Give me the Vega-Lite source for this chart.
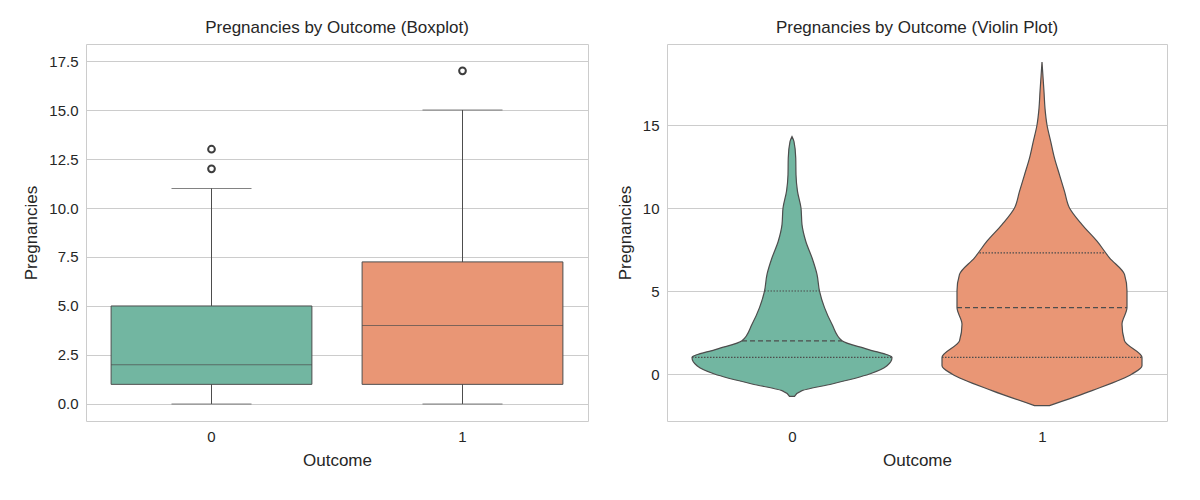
{
  "$schema": "https://vega.github.io/schema/vega-lite/v6.json",
  "padding": {"left": 22, "top": 18, "right": 20, "bottom": 10},
  "spacing": 26,
  "config": {
    "font": "Liberation Sans",
    "view": {"stroke": "#cccccc"},
    "axis": {"domain": false, "ticks": false, "labelFontSize": 15, "titleFontSize": 17, "titleFontWeight": "normal", "labelColor": "#262626", "titleColor": "#262626", "gridColor": "#cccccc", "labelPadding": 8, "titlePadding": 8},
    "title": {"fontSize": 17, "fontWeight": "normal", "color": "#262626", "offset": 7}
  },
  "datasets": {
    "box": [
      {"Outcome": "0", "lo": 0, "q1": 1, "med": 2, "q3": 5, "hi": 11},
      {"Outcome": "1", "lo": 0, "q1": 1, "med": 4, "q3": 7.25, "hi": 15}
    ],
    "outliers": [
      {"Outcome": "0", "Pregnancies": 12},
      {"Outcome": "0", "Pregnancies": 13},
      {"Outcome": "1", "Pregnancies": 17}
    ],
    "violin": [
      {"Outcome": "0", "y": -1.35, "xl": -0.01, "xr": 0.01},
      {"Outcome": "0", "y": -1.0, "xl": -0.04, "xr": 0.04},
      {"Outcome": "0", "y": -0.6, "xl": -0.16, "xr": 0.16},
      {"Outcome": "0", "y": 0.0, "xl": -0.31, "xr": 0.31},
      {"Outcome": "0", "y": 0.5, "xl": -0.38, "xr": 0.38},
      {"Outcome": "0", "y": 1.0, "xl": -0.4, "xr": 0.4},
      {"Outcome": "0", "y": 1.5, "xl": -0.3, "xr": 0.3},
      {"Outcome": "0", "y": 2.0, "xl": -0.2, "xr": 0.2},
      {"Outcome": "0", "y": 3.0, "xl": -0.16, "xr": 0.16},
      {"Outcome": "0", "y": 4.0, "xl": -0.13, "xr": 0.13},
      {"Outcome": "0", "y": 5.0, "xl": -0.11, "xr": 0.11},
      {"Outcome": "0", "y": 6.0, "xl": -0.1, "xr": 0.1},
      {"Outcome": "0", "y": 7.0, "xl": -0.08, "xr": 0.08},
      {"Outcome": "0", "y": 8.0, "xl": -0.055, "xr": 0.055},
      {"Outcome": "0", "y": 9.0, "xl": -0.04, "xr": 0.04},
      {"Outcome": "0", "y": 10.0, "xl": -0.036, "xr": 0.036},
      {"Outcome": "0", "y": 11.0, "xl": -0.022, "xr": 0.022},
      {"Outcome": "0", "y": 12.0, "xl": -0.016, "xr": 0.016},
      {"Outcome": "0", "y": 13.0, "xl": -0.015, "xr": 0.015},
      {"Outcome": "0", "y": 14.0, "xl": -0.008, "xr": 0.008},
      {"Outcome": "0", "y": 14.3, "xl": 0, "xr": 0},
      {"Outcome": "1", "y": -1.9, "xl": 0.97, "xr": 1.03},
      {"Outcome": "1", "y": -1.0, "xl": 0.8, "xr": 1.2},
      {"Outcome": "1", "y": 0.0, "xl": 0.64, "xr": 1.36},
      {"Outcome": "1", "y": 0.5, "xl": 0.6, "xr": 1.4},
      {"Outcome": "1", "y": 1.0, "xl": 0.6, "xr": 1.4},
      {"Outcome": "1", "y": 2.0, "xl": 0.67, "xr": 1.33},
      {"Outcome": "1", "y": 3.0, "xl": 0.68, "xr": 1.32},
      {"Outcome": "1", "y": 4.0, "xl": 0.66, "xr": 1.34},
      {"Outcome": "1", "y": 5.0, "xl": 0.66, "xr": 1.34},
      {"Outcome": "1", "y": 6.0, "xl": 0.67, "xr": 1.33},
      {"Outcome": "1", "y": 7.0, "xl": 0.73, "xr": 1.27},
      {"Outcome": "1", "y": 8.0, "xl": 0.78, "xr": 1.22},
      {"Outcome": "1", "y": 9.0, "xl": 0.84, "xr": 1.16},
      {"Outcome": "1", "y": 10.0, "xl": 0.89, "xr": 1.11},
      {"Outcome": "1", "y": 11.0, "xl": 0.91, "xr": 1.09},
      {"Outcome": "1", "y": 12.0, "xl": 0.93, "xr": 1.07},
      {"Outcome": "1", "y": 13.0, "xl": 0.95, "xr": 1.05},
      {"Outcome": "1", "y": 14.0, "xl": 0.965, "xr": 1.035},
      {"Outcome": "1", "y": 15.0, "xl": 0.98, "xr": 1.02},
      {"Outcome": "1", "y": 16.0, "xl": 0.988, "xr": 1.012},
      {"Outcome": "1", "y": 17.0, "xl": 0.992, "xr": 1.008},
      {"Outcome": "1", "y": 18.8, "xl": 1, "xr": 1}
    ],
    "quart": [
      {"Outcome": "0", "kind": "q", "y": 1, "xl": -0.4, "xr": 0.4},
      {"Outcome": "0", "kind": "m", "y": 2, "xl": -0.2, "xr": 0.2},
      {"Outcome": "0", "kind": "q", "y": 5, "xl": -0.11, "xr": 0.11},
      {"Outcome": "1", "kind": "q", "y": 1, "xl": 0.6, "xr": 1.4},
      {"Outcome": "1", "kind": "m", "y": 4, "xl": 0.66, "xr": 1.34},
      {"Outcome": "1", "kind": "q", "y": 7.3, "xl": 0.75, "xr": 1.25}
    ]
  },
  "hconcat": [
    {
      "title": "Pregnancies by Outcome (Boxplot)",
      "width": 502,
      "height": 377,
      "encoding": {
        "x": {"field": "Outcome", "type": "nominal", "scale": {"paddingInner": 0, "paddingOuter": 0}, "axis": {"labelAngle": 0, "grid": false}}
      },
      "layer": [
        {
          "data": {"name": "box"},
          "mark": {"type": "rule", "color": "#4d4d4d"},
          "encoding": {
            "y": {"field": "lo", "type": "quantitative", "title": "Pregnancies", "scale": {"domain": [-0.87, 18.37], "nice": false, "zero": false}, "axis": {"values": [0, 2.5, 5, 7.5, 10, 12.5, 15, 17.5], "format": ".1f"}},
            "y2": {"field": "hi"}
          }
        },
        {
          "data": {"name": "box"},
          "mark": {"type": "bar", "width": {"band": 0.8}, "stroke": "#4d4d4d", "strokeWidth": 1},
          "encoding": {
            "y": {"field": "q1", "type": "quantitative"},
            "y2": {"field": "q3"},
            "color": {"field": "Outcome", "type": "nominal", "scale": {"range": ["#72b6a1", "#e99675"]}, "legend": null}
          }
        },
        {
          "data": {"name": "box"},
          "mark": {"type": "tick", "orient": "horizontal", "size": 201, "thickness": 1, "color": "#4d4d4d"},
          "encoding": {"y": {"field": "med", "type": "quantitative"}}
        },
        {
          "data": {"name": "box"},
          "mark": {"type": "tick", "orient": "horizontal", "size": 80, "thickness": 1, "color": "#4d4d4d"},
          "encoding": {"y": {"field": "lo", "type": "quantitative"}}
        },
        {
          "data": {"name": "box"},
          "mark": {"type": "tick", "orient": "horizontal", "size": 80, "thickness": 1, "color": "#4d4d4d"},
          "encoding": {"y": {"field": "hi", "type": "quantitative"}}
        },
        {
          "data": {"name": "outliers"},
          "mark": {"type": "point", "filled": false, "color": "#3d3d3d", "opacity": 1, "size": 45, "strokeWidth": 2},
          "encoding": {"y": {"field": "Pregnancies", "type": "quantitative"}}
        }
      ]
    },
    {
      "title": "Pregnancies by Outcome (Violin Plot)",
      "width": 500,
      "height": 377,
      "layer": [
        {
          "data": {"name": "violin"},
          "mark": {"type": "area", "orient": "horizontal", "stroke": "#4d4d4d", "strokeWidth": 1.2, "interpolate": "monotone", "opacity": 1},
          "encoding": {
            "y": {"field": "y", "type": "quantitative", "title": "Pregnancies", "scale": {"domain": [-2.83, 19.88], "nice": false, "zero": false}, "axis": {"values": [0, 5, 10, 15]}},
            "x": {"field": "xl", "type": "quantitative", "title": "Outcome", "scale": {"domain": [-0.5, 1.5], "nice": false, "zero": false}, "axis": {"values": [0, 1], "format": "d", "grid": false}},
            "x2": {"field": "xr"},
            "detail": {"field": "Outcome"},
            "color": {"field": "Outcome", "type": "nominal", "scale": {"range": ["#72b6a1", "#e99675"]}, "legend": null}
          }
        },
        {
          "data": {"name": "quart"},
          "transform": [{"filter": "datum.kind == 'q'"}],
          "mark": {"type": "rule", "color": "#4d4d4d", "strokeDash": [1.5, 1.5], "strokeWidth": 1.2},
          "encoding": {
            "y": {"field": "y", "type": "quantitative"},
            "x": {"field": "xl", "type": "quantitative"},
            "x2": {"field": "xr"}
          }
        },
        {
          "data": {"name": "quart"},
          "transform": [{"filter": "datum.kind == 'm'"}],
          "mark": {"type": "rule", "color": "#4d4d4d", "strokeDash": [5, 3], "strokeWidth": 1.2},
          "encoding": {
            "y": {"field": "y", "type": "quantitative"},
            "x": {"field": "xl", "type": "quantitative"},
            "x2": {"field": "xr"}
          }
        }
      ]
    }
  ]
}
